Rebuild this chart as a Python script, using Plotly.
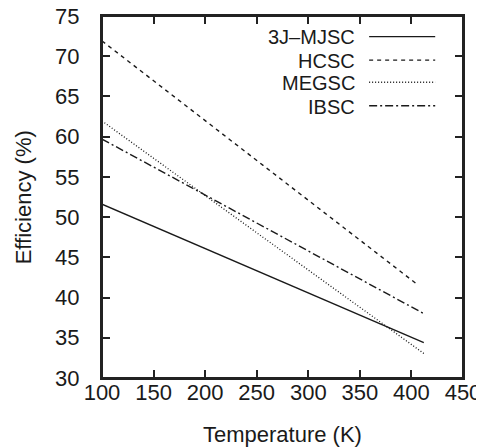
import plotly.graph_objects as go

# Data
names = ["3J\u2013MJSC", "HCSC", "MEGSC", "IBSC"]
temp_3j = [100, 412]
eff_3j = [51.6, 34.4]
temp_hcsc = [100, 406]
eff_hcsc = [71.9, 41.6]
temp_megsc = [100, 412]
eff_megsc = [61.95, 33.05]
temp_ibsc = [100, 412]
eff_ibsc = [59.7, 38.0]
x_ticks = [100, 150, 200, 250, 300, 350, 400, 450]
y_ticks = [30, 35, 40, 45, 50, 55, 60, 65, 70, 75]
x_title = "Temperature (K)"
y_title = "Efficiency (%)"

dashes = ["solid", "4px,4px", "1px,2px", "8px,3px,2px,3px"]
widths = [1.4, 1.4, 1.3, 1.4]
xs = [temp_3j, temp_hcsc, temp_megsc, temp_ibsc]
ys = [eff_3j, eff_hcsc, eff_megsc, eff_ibsc]
col = "#1a1a1a"
font = "Liberation Sans, Arial, sans-serif"
fs = 22

fig = go.Figure()
for n, x, y, d, w in zip(names, xs, ys, dashes, widths):
    fig.add_trace(go.Scatter(x=x, y=y, mode="lines", name=n,
                             line=dict(color=col, width=w, dash=d),
                             showlegend=False))

# custom legend (text right-aligned, sample on the right, gnuplot style)
row_y = [0.941, 0.876, 0.815, 0.750]
for n, d, w, ry in zip(names, dashes, widths, row_y):
    fig.add_annotation(xref="paper", yref="paper", x=0.703, y=ry,
                       text=n, showarrow=False, xanchor="right", yanchor="middle",
                       borderpad=0, font=dict(size=20, color=col, family=font))
    fig.add_shape(type="line", xref="paper", yref="paper",
                  x0=0.74, x1=0.923, y0=ry + 0.002, y1=ry + 0.002,
                  line=dict(color=col, width=w, dash=d))

# full frame around the plot area
fig.add_shape(type="rect", xref="paper", yref="paper", x0=0, x1=1, y0=0, y1=1,
              line=dict(color="#222", width=2), fillcolor="rgba(0,0,0,0)", layer="above")

# axis titles
fig.add_annotation(xref="paper", yref="paper", x=0.5, y=-0.157, text=x_title,
                   showarrow=False, xanchor="center", yanchor="middle",
                   font=dict(size=fs, color=col, family=font))
fig.add_annotation(xref="paper", yref="paper", x=-0.218, y=0.5, text=y_title,
                   showarrow=False, xanchor="center", yanchor="middle", textangle=-90,
                   font=dict(size=fs, color=col, family=font))

axis_common = dict(showgrid=False, zeroline=False, showline=True, linecolor="#222",
                   linewidth=2, mirror="ticks", ticks="inside", ticklen=8,
                   tickwidth=1.5, tickcolor="#222", automargin=False,
                   ticklabeloverflow="allow",
                   tickfont=dict(size=fs, color=col, family=font))

fig.update_xaxes(range=[100, 450], tickvals=x_ticks, ticklabelstandoff=-6, **axis_common)
fig.update_yaxes(range=[30, 75], tickvals=y_ticks, ticklabelstandoff=16, **axis_common)

# page body has an 8px margin, so the figure is sized/margined to compensate
fig.update_layout(width=476, height=441, plot_bgcolor="white", paper_bgcolor="white",
                  margin=dict(l=94, r=21, t=8, b=71), showlegend=False)
fig.write_html("out.html")
